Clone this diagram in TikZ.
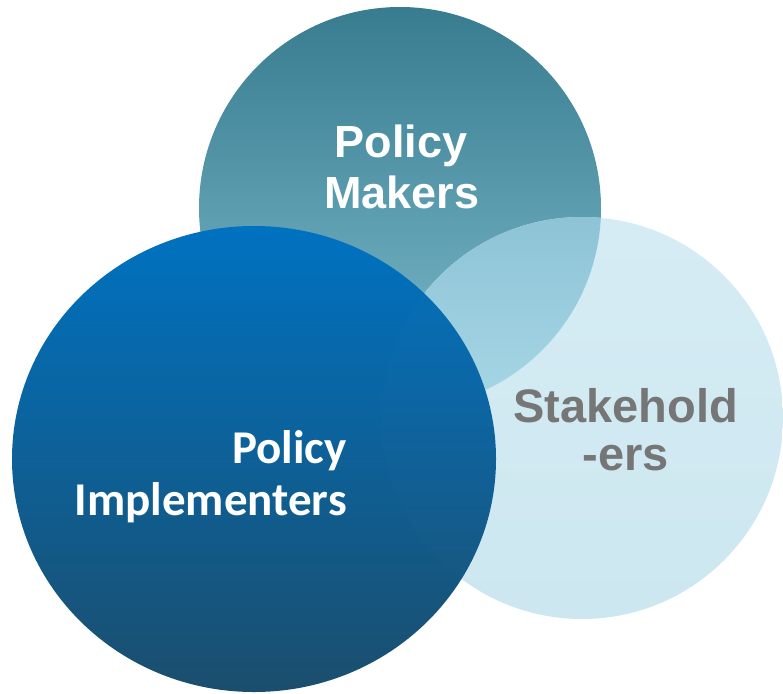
\documentclass[tikz,border=0pt]{standalone}
\usepackage{fontspec}
\setmainfont{Liberation Sans}
\newfontfamily\carlito{Carlito}
\definecolor{pmTop}{HTML}{387C90}
\definecolor{pmBot}{HTML}{7EBCCC}
\definecolor{ovTop}{HTML}{8DC3D6}
\definecolor{ovBot}{HTML}{A7D7E6}
\definecolor{shTop}{HTML}{D6ECF4}
\definecolor{shBot}{HTML}{CCE7F0}
\definecolor{piTop}{HTML}{0072C1}
\definecolor{piBot}{HTML}{1B4E6D}
\definecolor{shText}{HTML}{767676}
\begin{document}
\begin{tikzpicture}[x=1pt,y=-1pt,
  pmlabel/.style={text=white,inner sep=0pt,anchor=base,font=\fontsize{45pt}{51pt}\selectfont\bfseries},
  shlabel/.style={text=shText,inner sep=0pt,anchor=base,font=\fontsize{47pt}{48pt}\selectfont\bfseries},
  pilabel/.style={text=white,inner sep=0pt,anchor=base east,font=\fontsize{47pt}{52pt}\selectfont\carlito\bfseries}]
\useasboundingbox (0,0) rectangle (783,693);
% top circle: Policy Makers
\shade[top color=pmTop,bottom color=pmBot] (400,208) circle[radius=201pt];
% right circle: Stakeholders
\shade[top color=shTop,bottom color=shBot] (582,418) circle[radius=201pt];
% overlap of top and right circles
\begin{scope}
  \clip (400,208) circle[radius=201pt];
  \clip (582,418) circle[radius=201pt];
  \shade[top color=ovTop,bottom color=ovBot] (370,216) rectangle (610,410);
\end{scope}
% left ellipse: Policy Implementers
\shade[top color=piTop,bottom color=piBot] (254,459) ellipse[x radius=242pt,y radius=233pt];
\begin{scope}
  \clip (254,459) ellipse[x radius=242pt,y radius=233pt];
  \fill[white,opacity=0.012] (582,418) circle[radius=201pt];
\end{scope}
% labels
\node[pmlabel] (pm1) at (401,157) {Policy};
\node[pmlabel] (pm2) at (402,208) {Makers};
\node[shlabel] (sh1) at (625.5,422) {Stakehold};
\node[shlabel] (sh2) at (625.5,470) {-ers};
\node[pilabel] (pi1) at (347,463) {Policy};
\node[pilabel] (pi2) at (347,515) {Implementers};
\end{tikzpicture}
\end{document}
